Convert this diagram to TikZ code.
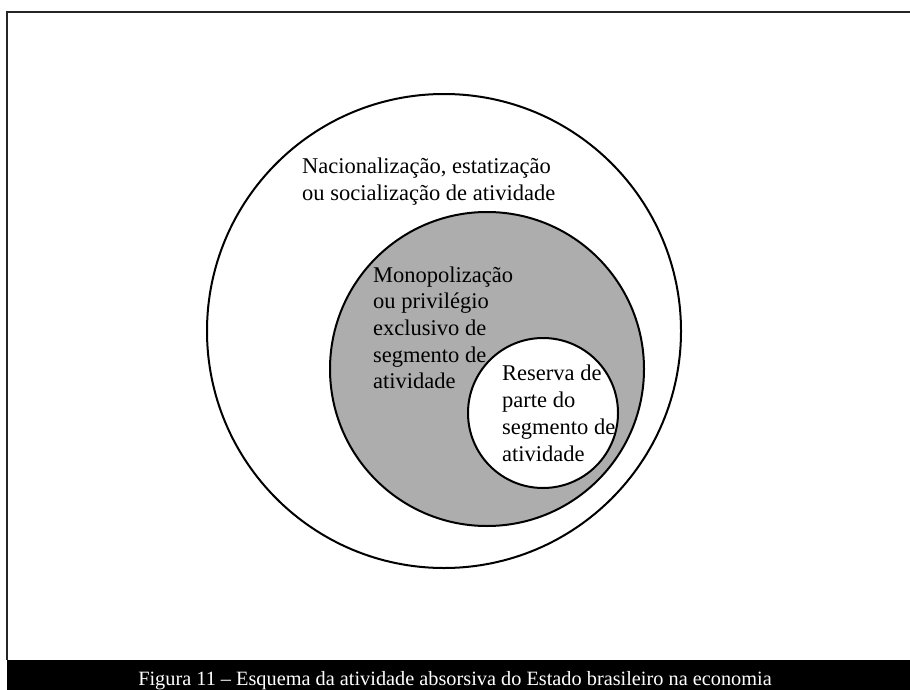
\documentclass[tikz,border=0pt]{standalone}
\usepackage{fontspec}
\setmainfont{Liberation Serif}
\tikzset{
  ring/.style={circle, draw=black, line width=2pt, inner sep=0pt},
  txt/.style={anchor=base west, inner sep=0pt, font=\fontsize{22.5pt}{27pt}\selectfont},
}
\begin{document}
\begin{tikzpicture}[x=1pt,y=-1pt]
\useasboundingbox (0,0) rectangle (910,690);
\fill[white] (0,0) rectangle (910,690);
% frame
\coordinate (fbl) at (7,660);
\coordinate (ftl) at (7,12);
\coordinate (ftr) at (910,12);
\draw[line width=2pt, color=black!85] (fbl) -- (ftl) -- (ftr);
\fill[black] (7,660) rectangle (910,690);
% circles
\node[ring, minimum size=474pt] (outer) at (444,331) {};
\node[ring, minimum size=314pt, fill=black!32] (mid) at (487,369) {};
\node[ring, minimum size=150pt, fill=white] (inner) at (543,413) {};
% outer text
\node[txt] (o1) at (302,173) {Nacionalização, estatização};
\node[txt] (o2) at (302,200) {ou socialização de atividade};
% middle text
\node[txt] (m1) at (373,282) {Monopolização};
\node[txt] (m2) at (373,308) {ou privilégio};
\node[txt] (m3) at (373,335) {exclusivo de};
\node[txt] (m4) at (373,362) {segmento de};
\node[txt] (m5) at (373,388) {atividade};
% inner text
\node[txt] (i1) at (502,380) {Reserva de};
\node[txt] (i2) at (502,407) {parte do};
\node[txt] (i3) at (502,434) {segmento de};
\node[txt] (i4) at (502,461) {atividade};
% caption
\node[anchor=base, inner sep=0pt, text=white, font=\fontsize{20.3pt}{24pt}\selectfont] (cap) at (455,685) {Figura 11 -- Esquema da atividade absorsiva do Estado brasileiro na economia};
\end{tikzpicture}
\end{document}
